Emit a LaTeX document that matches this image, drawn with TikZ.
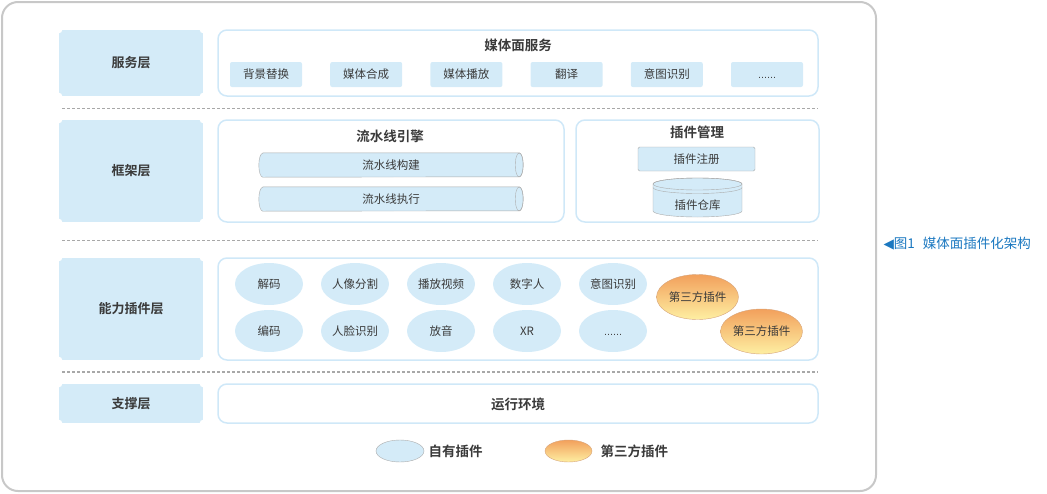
\documentclass[tikz,border=0pt]{standalone}
\usepackage{fontspec}
\setmainfont{Noto Sans CJK SC}[BoldFont={Noto Sans CJK SC Bold}]
\newfontfamily\symfont{DejaVu Sans}
\usetikzlibrary{matrix,positioning,shapes.geometric}

\definecolor{paleblue}{HTML}{D4EBF8}
\definecolor{edgeblue}{HTML}{CFE8F8}
\definecolor{framegray}{HTML}{C8C8C8}
\definecolor{dashgray}{HTML}{A8A8A8}
\definecolor{rimgray}{HTML}{ABABAB}
\definecolor{textgray}{HTML}{3A3A3A}
\definecolor{capblue}{HTML}{1B78C0}
\definecolor{tptop}{HTML}{F2A05C}
\definecolor{tpbot}{HTML}{FEEFA2}

\newcommand{\moredots}{\vphantom{图}{\symfont\fontsize{9}{10}\selectfont ……}}

\tikzset{
  layer/.style={fill=paleblue, minimum width=144pt, inner sep=0pt, text=textgray,
    font=\fontsize{13}{15}\selectfont\bfseries},
  panel/.style={draw=edgeblue, line width=1.5pt, rounded corners=9pt, inner sep=0pt},
  title/.style={text=textgray, font=\fontsize{13.5}{15}\selectfont\bfseries},
  item/.style={text=textgray, font=\fontsize{11.5}{13}\selectfont},
  service/.style={item, fill=paleblue, rounded corners=2pt, minimum width=72pt,
    minimum height=25pt, inner sep=0pt, anchor=center},
  pipe/.style={item, minimum width=256pt, minimum height=24pt, inner sep=0pt},
  pipebody/.style={draw=rimgray, fill=paleblue},
  plugin/.style={item, ellipse, fill=paleblue, minimum width=68pt, minimum height=42pt,
    inner sep=0pt, anchor=center},
  third/.style={item, ellipse, draw=tptop!60!rimgray, top color=tptop, bottom color=tpbot,
    minimum width=82pt, minimum height=45pt, inner sep=0pt},
}

\begin{document}
\begin{tikzpicture}[x=1pt, y=1pt]
  \useasboundingbox (0,0) rectangle (1047,-493);
  \draw[framegray, line width=2pt, rounded corners=16pt] (2,-2) rectangle (876,-491);

  % layers
  \node[layer, minimum height=66pt]  (srv) at (131,-63)    {服务层};
  \node[layer, minimum height=102pt] (frm) at (131,-171)   {框架层};
  \node[layer, minimum height=102pt] (cap) at (131,-309)   {能力插件层};
  \node[layer, minimum height=39pt]  (sup) at (131,-403.5) {支撑层};
  \foreach \n in {srv,frm,cap,sup}
    \foreach \c in {north west,north east,south west,south east}
      \fill[white] (\n.\c) circle (3.5pt);

  \foreach \y in {-108.5,-240.5,-372}
    \draw[dashgray, line width=1.2pt, dash pattern=on 3pt off 2pt] (62,\y) -- (818,\y);

  % service layer
  \node[panel, minimum width=600pt, minimum height=66pt] (srvpanel) at (518,-63) {};
  \node[title] (srvtitle) at (518,-45) {媒体面服务};
  \matrix (services) [matrix of nodes, nodes={service}, column sep=28.2pt] at (516.5,-74.5)
  {
    背景替换 & 媒体合成 & 媒体播放 & 翻译 & 意图识别 & \moredots \\
  };

  % framework layer
  \node[panel, minimum width=346pt, minimum height=102pt] (pipepanel) at (391,-171) {};
  \node[title] (pipetitle) at (390,-136) {流水线引擎};
  \foreach \p/\y/\t in {build/-165/流水线构建, run/-199/流水线执行} {
    \node[pipe] (\p) at (391,\y) {};
    \path[pipebody] (\p.north west) -- (\p.north east)
      arc[start angle=90, end angle=-90, x radius=4, y radius=12] -- (\p.south west)
      arc[start angle=270, end angle=90, x radius=4, y radius=12] -- cycle;
    \draw[rimgray] (\p.east) ellipse[x radius=4, y radius=12];
    \node[item] at (\p) {\t};
  }

  \node[panel, minimum width=243pt, minimum height=102pt] (mgmtpanel) at (697.5,-171) {};
  \node[title] (mgmttitle) at (697,-132) {插件管理};
  \node[item, draw=rimgray, fill=paleblue, rounded corners=1.5pt, minimum width=117pt,
    minimum height=24pt, inner sep=0pt] (register) at (696.5,-159) {插件注册};
  \path[draw=rimgray, fill=paleblue] (653,-184) -- (653,-211)
    arc[start angle=180, end angle=360, x radius=44.5, y radius=6] -- (742,-184)
    arc[start angle=0, end angle=180, x radius=44.5, y radius=6] -- cycle;
  \draw[rimgray] (697.5,-184) ellipse[x radius=44.5, y radius=6];
  \draw[rimgray] (653,-187.5) arc[start angle=180, end angle=360, x radius=44.5, y radius=6];
  \node[item] (repo) at (697.5,-205) {插件仓库};

  % capability layer
  \node[panel, minimum width=600pt, minimum height=102pt] (cappanel) at (518,-309) {};
  \matrix (plugins) [matrix of nodes, nodes={plugin}, column sep=18pt, row sep=5pt] at (441,-307.5)
  {
    解码 & 人像分割 & 播放视频 & 数字人 & 意图识别 \\
    编码 & 人脸识别 & 放音     & XR     & \moredots \\
  };
  \node[third] (tpa) at (697.5,-297) {第三方插件};
  \node[third] (tpb) at (761.5,-331.5) {第三方插件};

  % support layer
  \node[panel, minimum width=600pt, minimum height=39pt] (suppanel) at (518,-403.5) {};
  \node[title] (suptitle) at (518,-404) {运行环境};

  % legend
  \node[ellipse, draw=rimgray, fill=paleblue, minimum width=48pt, minimum height=22pt] (lgself) at (400,-451) {};
  \node[title, right=1pt of lgself] (lgselftext) {自有插件};
  \node[ellipse, draw=tptop!60!rimgray, top color=tptop, bottom color=tpbot,
    minimum width=47pt, minimum height=22pt] (lgthird) at (568.5,-451) {};
  \node[title, right=5pt of lgthird] (lgthirdtext) {第三方插件};

  \node[anchor=west, text=capblue, font=\fontsize{13.5}{15}\selectfont] (caption) at (880,-244)
    {{\symfont ◀}图1\hspace{8pt}媒体面插件化架构};
\end{tikzpicture}
\end{document}
